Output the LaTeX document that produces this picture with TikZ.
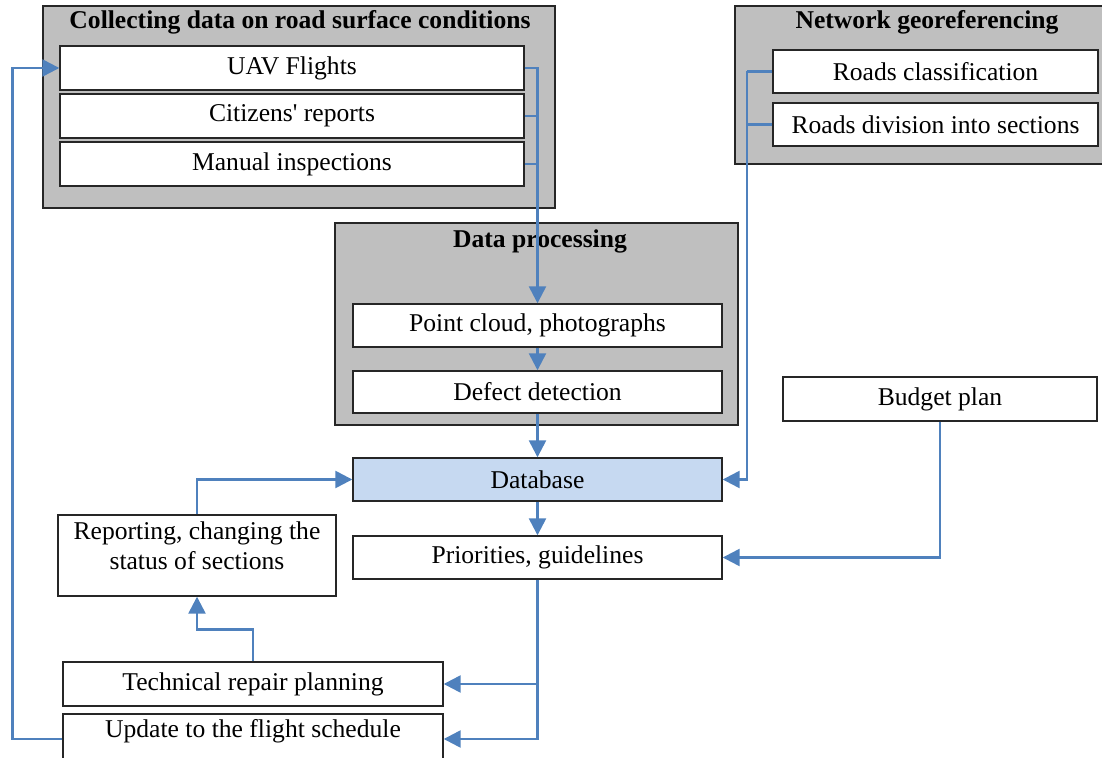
\documentclass[tikz,border=0pt]{standalone}
\usepackage{fontspec}
\setmainfont{Liberation Serif}
\usetikzlibrary{arrows.meta}
\definecolor{lnblue}{HTML}{4F81BD}
\definecolor{grpgray}{HTML}{BFBFBF}
\definecolor{dbblue}{HTML}{C6D9F1}
\newcommand\bx[7]{\node[#1, minimum width={(#4-#2)*0.5pt}, minimum height={(#5-#3)*0.5pt}] (#6) at ({(#2+#4)/2},{(#3+#5)/2}) {#7};}
\begin{document}
\begin{tikzpicture}[x=0.5pt,y=-0.5pt,
  every node/.style={font=\fontsize{12.8}{15}\selectfont},
  grp/.style={draw=black!85, line width=0.7pt, fill=grpgray, inner sep=0pt},
  box/.style={draw=black!85, line width=0.7pt, fill=white, inner sep=0pt, align=center},
  dbbox/.style={box, fill=dbblue},
  ttl/.style={font=\fontsize{12.8}{15}\selectfont\bfseries, inner sep=0pt},
  ln/.style={draw=lnblue, line width=1.25pt},
  arr/.style={ln, -{Triangle[length=8.5pt,width=8.5pt]}}]
\useasboundingbox (0,0) rectangle (1102,758);
% groups
\bx{grp}{43}{6}{555}{208}{gcol}{}
\node[ttl] (tcol) at (300,22) {Collecting data on road surface conditions};
\bx{grp}{735}{6}{1110}{164}{gnet}{}
\node[ttl] (tnet) at (927,22) {Network georeferencing};
\bx{grp}{335}{223}{738}{425}{gproc}{}
\node[ttl] (tproc) at (540,241) {Data processing};
% boxes
\bx{box}{60}{46}{524}{90}{uav}{UAV Flights}
\bx{box}{60}{94}{524}{138}{cit}{Citizens\textquotesingle\ reports}
\bx{box}{60}{142}{524}{186}{man}{Manual inspections}
\bx{box}{773}{50}{1098}{93}{rc}{Roads classification}
\bx{box}{773}{103}{1098}{146}{rd}{Roads division into sections}
\bx{box}{353}{304}{722}{347}{pc}{Point cloud, photographs}
\bx{box}{353}{371}{722}{413}{dd}{Defect detection}
\bx{dbbox}{353}{458}{722}{501}{db}{Database}
\bx{box}{783}{377}{1097}{421}{bud}{Budget plan}
\bx{box}{353}{536}{722}{579}{pri}{Priorities, guidelines}
\bx{box}{58}{515}{336}{596}{rep}{}
\node[inner sep=0pt, align=center, anchor=north] (reptxt) at (197,521) {Reporting, changing the\\status of sections};
\bx{box}{63}{662}{443}{706}{tech}{Technical repair planning}
\bx{box}{63}{714}{443}{764}{upd}{}
\node[inner sep=0pt] (updtxt) at (253,731) {Update to the flight schedule};
% connectors
\coordinate (ngx) at (747,0);
\draw[arr] (uav.east) -| (pc.north);
\draw[ln] (cit.east) -- (cit.east -| pc.north);
\draw[ln] (man.east) -- (man.east -| pc.north);
\draw[arr] (pc.south) -- (dd.north);
\draw[arr] (dd.south) -- (db.north);
\draw[ln] (rc.west) -- (rc.west -| ngx);
\draw[ln] (rd.west) -- (rd.west -| ngx);
\draw[arr] (rc.west -| ngx) |- (db.east);
\draw[arr] (bud.south) |- (pri.east);
\draw[arr] (db.south) -- (pri.north);
\draw[arr] (rep.north) |- (db.west);
\draw[arr] (tech.north) -- ++(0,-32) -| (rep.south);
\draw[arr] (pri.south) |- (upd.east);
\draw[arr] (pri.south |- tech.east) -- (tech.east);
\draw[arr] (upd.west) -- ++(-50,0) |- (uav.west);
\end{tikzpicture}
\end{document}
